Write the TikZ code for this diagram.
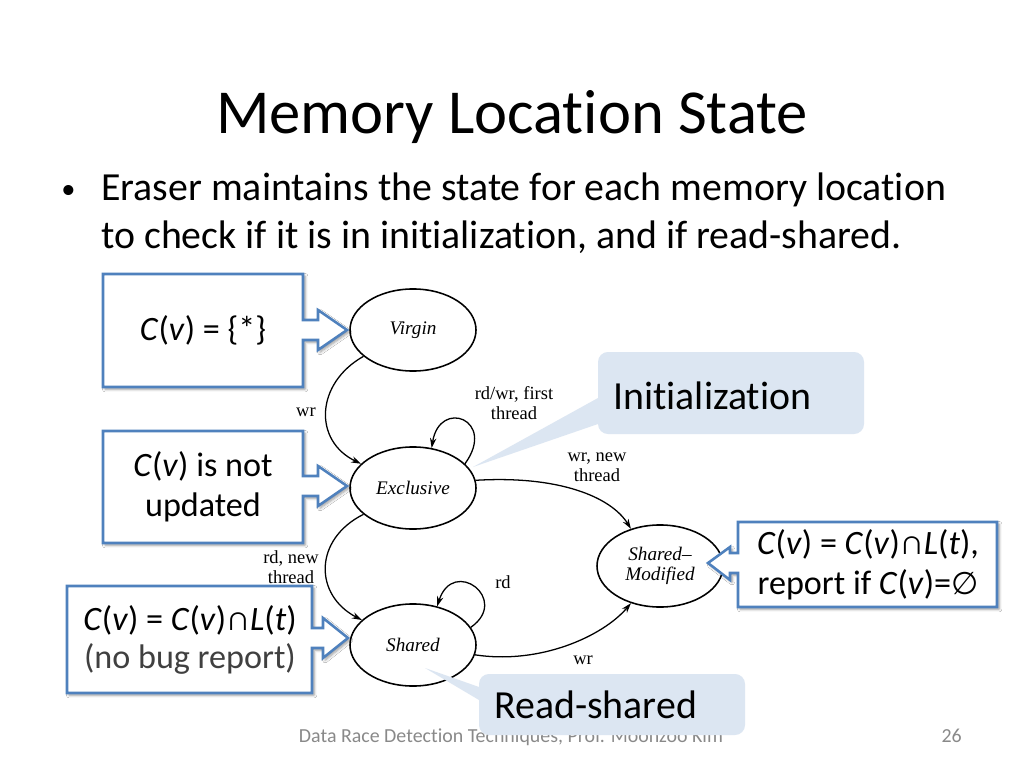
\documentclass[tikz,border=0pt]{standalone}
\usepackage{fontspec}
\setmainfont{Carlito}[Ligatures=NoCommon]
\newfontfamily\tms{Liberation Serif}
\newfontfamily\dvs{DejaVu Sans}
\usetikzlibrary{shapes.geometric,arrows.meta,shadows.blur}
\definecolor{cblue}{RGB}{79,129,189}
\definecolor{bubc}{RGB}{220,230,242}
\definecolor{footc}{RGB}{137,137,137}
\definecolor{darkg}{RGB}{64,64,64}
\newcommand{\capx}{∩}
\newcommand{\emptyx}{{\dvs\fontsize{22}{24}\selectfont ∅}}
\begin{document}
\begin{tikzpicture}[x=0.703125pt,y=-0.703125pt,
  stnode/.style={ellipse,draw,line width=1.1pt,minimum width=88.6pt,minimum height=57.7pt,inner sep=0pt,font=\tms\itshape\fontsize{13.5}{15}\selectfont,align=center},
  trans/.style={-{Stealth[length=7pt,width=4.5pt]},line width=0.9pt},
  elabel/.style={font=\tms\fontsize{13}{14}\selectfont,align=center,inner sep=0pt},
  cbox/.style={draw=cblue,line width=1.8pt,fill=white,line join=miter,blur shadow={shadow xshift=1.5pt,shadow yshift=-1.5pt,shadow blur steps=6,shadow opacity=40}},
  ctext/.style={font=\fontsize{24}{28}\selectfont,align=center,inner sep=0pt},
  bubfill/.style={fill=bubc,draw=none},
  btext/.style={font=\fontsize{28}{32}\selectfont,inner sep=0pt,anchor=base west},
  bodytext/.style={font=\fontsize{28}{32}\selectfont,inner sep=0pt,anchor=base west},
]
\fill[white] (0,0) rectangle (1024,768);
\useasboundingbox (0,0) rectangle (1024,768);

% title and bullet
\node[font=\fontsize{44}{50}\selectfont,anchor=base,inner sep=0pt] (title) at (512,134) {Memory Location State};
\node[font=\fontsize{20}{24}\selectfont,inner sep=0pt,anchor=base west] (bul) at (61,199) {•};
\node[bodytext] (b1) at (101,201) {Eraser maintains the state for each memory location};
\node[bodytext] (b2) at (101,249) {to check if it is in initialization, and if read-shared.};

% footer
\node[font=\fontsize{14}{16}\selectfont,text=footc,anchor=base,inner sep=0pt] (foot) at (511,742) {Data Race Detection Techniques, Prof. Moonzoo Kim};
\node[font=\fontsize{14}{16}\selectfont,text=footc,anchor=base east,inner sep=0pt] (pg) at (962,742) {26};

% states
\node[stnode] (V) at (413,330) {Virgin};
\node[stnode] (E) at (413,488) {Exclusive};
\node[stnode] (S) at (413,645) {Shared};
\node[stnode] (SM) at (660,566) {Shared–\\[-1pt]Modified};

% transitions
\draw[trans] (V.208) .. controls +(-48,27) and +(-48,-23) .. (E.155);
\draw[trans] (E.25) .. controls +(32,-44) and +(8,-50) .. (E.65);
\draw[trans] (E.7) .. controls +(83,-5) and +(-20,-32) .. (SM.128);
\draw[trans] (E.208) .. controls +(-50,25) and +(-48,-25) .. (S.154);
\draw[trans] (S.17) .. controls +(40,-28) and +(16,-50) .. (S.58);
\draw[trans] (S.351) .. controls +(65,10) and +(-28,33) .. (SM.232);

% transition labels
\node[elabel] (l1) at (306,412) {wr};
\node[elabel] (l2) at (514,403) {rd/wr, first\\thread};
\node[elabel] (l3) at (597,467) {wr, new\\thread};
\node[elabel] (l4) at (291,567) {rd, new\\thread};
\node[elabel] (l5) at (503,582) {rd};
\node[elabel] (l6) at (583,660) {wr};

% callout boxes
\path[cbox] (103,274) -- (303,274) -- (303,320) -- (318,320) -- (318,310) -- (347,330) -- (318,350) -- (318,340) -- (303,340) -- (303,387) -- (103,387) -- cycle;
\node[ctext] (t1) at (203,330) {\textit{C}(\textit{v}) = \{*\}};

\path[cbox] (103,431) -- (303,431) -- (303,476) -- (318,476) -- (318,466) -- (347,486) -- (318,506) -- (318,496) -- (303,496) -- (303,543) -- (103,543) -- cycle;
\node[ctext] (t2) at (203,487) {\textit{C}(\textit{v}) is not\\updated};

\path[cbox] (67,586) -- (312,586) -- (312,628) -- (323,628) -- (323,618) -- (348,638) -- (323,658) -- (323,648) -- (312,648) -- (312,693) -- (67,693) -- cycle;
\node[ctext,font=\fontsize{24}{27}\selectfont] (t3) at (190,640) {\textit{C}(\textit{v}) = \textit{C}(\textit{v})\capx\textit{L}(\textit{t})\\\textcolor{darkg}{(no bug report)}};

\path[cbox] (997,522) -- (997,607) -- (738,607) -- (738,573) -- (730,573) -- (730,580) -- (708,563) -- (730,547) -- (730,553) -- (738,553) -- (738,522) -- cycle;
\node[ctext] (t4) at (868,565) {\textit{C}(\textit{v}) = \textit{C}(\textit{v})\capx\textit{L}(\textit{t}),\\report if \textit{C}(\textit{v})=\emptyx};

% speech bubbles
\fill[bubfill] (473,467) -- (598,424) [rounded corners=7pt] -- (598,434) -- (864,434) -- (864,352) -- (598,352) [sharp corners] -- (598,398) -- cycle;
\node[btext] (init) at (613,409) {Initialization};

\fill[bubfill] (425,668) -- (479,700) [rounded corners=7pt] -- (479,735) -- (745,735) -- (745,674) -- (479,674) [sharp corners] -- (479,687) -- cycle;
\node[btext] (rs) at (494,718) {Read-shared};
\end{tikzpicture}
\end{document}
